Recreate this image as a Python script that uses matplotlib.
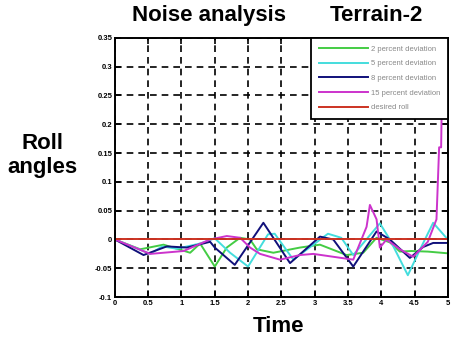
import matplotlib
matplotlib.use("Agg")
import matplotlib.pyplot as plt

plt.rcParams['font.family'] = ['Liberation Sans', 'DejaVu Sans']

# Data (time, roll angle)
t_2pct = [0, 0.38, 0.73, 1.13, 1.28, 1.5, 1.68, 1.88, 2.03, 2.13, 2.38, 2.78, 3.08, 3.48,
          3.73, 3.93, 4.13, 4.28, 4.45, 4.7, 5.0]
v_2pct = [0, -0.017, -0.009, -0.023, -0.007, -0.047, -0.014, 0.003, 0.0, -0.017, -0.023,
          -0.014, -0.009, -0.027, -0.023, 0.003, -0.005, -0.021, -0.02, -0.021, -0.024]

t_5pct = [0, 0.53, 0.71, 0.93, 1.28, 1.5, 1.73, 2.0, 2.3, 2.4, 2.68, 3.2, 3.4, 3.58,
          3.98, 4.13, 4.4, 4.58, 4.78, 5.0]
v_5pct = [0, -0.025, -0.012, -0.016, -0.007, 0.002, -0.023, -0.047, 0.009, 0.01, -0.035,
          0.01, 0.003, -0.027, 0.028, 0.0, -0.062, -0.018, 0.029, 0.0]

t_8pct = [0, 0.43, 0.78, 1.08, 1.43, 1.5, 1.8, 2.23, 2.63, 3.08, 3.28, 3.58, 3.93, 4.13,
          4.43, 4.63, 4.78, 5.0]
v_8pct = [0, -0.027, -0.012, -0.014, -0.004, -0.014, -0.044, 0.029, -0.041, 0.005, 0.0,
          -0.047, 0.014, 0.0, -0.032, -0.013, -0.006, -0.006]

t_15pct = [0, 0.53, 1.03, 1.43, 1.68, 1.88, 2.03, 2.18, 2.48, 2.78, 2.98, 3.28, 3.58,
           3.78, 3.83, 3.93, 3.98, 4.08, 4.28, 4.48, 4.7, 4.83, 4.87, 4.9, 4.93]
v_15pct = [0, -0.025, -0.02, 0.0, 0.006, 0.003, -0.014, -0.025, -0.035, -0.027, -0.025,
           -0.03, -0.035, 0.022, 0.06, 0.035, -0.014, 0.0, -0.017, -0.03, -0.004, 0.035,
           0.16, 0.16, 0.4]

t_desired = [0, 5]
v_desired = [0, 0]

labels = ["2 percent deviation", "5 percent deviation", "8 percent deviation",
          "15 percent deviation", "desired roll"]
colors = ["#44cc44", "#44dddd", "#10107a", "#cc33cc", "#cc3322"]

x_ticks = [0, 0.5, 1, 1.5, 2, 2.5, 3, 3.5, 4, 4.5, 5]
y_ticks = [-0.1, -0.05, 0, 0.05, 0.1, 0.15, 0.2, 0.25, 0.3, 0.35]

fig = plt.figure(figsize=(4.56, 3.38), dpi=100)
ax = fig.add_axes([0.252, 0.121, 0.730, 0.767])

series = [(t_2pct, v_2pct), (t_5pct, v_5pct), (t_8pct, v_8pct),
          (t_15pct, v_15pct), (t_desired, v_desired)]
for (t, v), lab, c in zip(series, labels, colors):
    ax.plot(t, v, color=c, lw=1.4, label=lab)

ax.set_xlim(0, 5)
ax.set_ylim(-0.1, 0.35)
ax.set_xticks(x_ticks)
ax.set_yticks(y_ticks)
ax.set_xticklabels([f"{x:g}" for x in x_ticks])
ax.set_yticklabels([f"{y:g}" for y in y_ticks])
ax.tick_params(direction="in", length=4, width=1.2, top=True, right=True,
               labelsize=5.5, pad=2)
for lab in ax.get_xticklabels() + ax.get_yticklabels():
    lab.set_fontweight("bold")
ax.grid(True, color="black", lw=1.2, linestyle=(0, (4, 3)))
for s in ax.spines.values():
    s.set_linewidth(1.4)

leg = ax.legend(loc="upper right", fontsize=5.5, frameon=True, fancybox=False,
                framealpha=1, facecolor="white", edgecolor="black",
                borderpad=1.0, labelspacing=0.95, handlelength=6.5,
                handletextpad=0.3, borderaxespad=0.0)
leg.get_frame().set_linewidth(1.3)
for txt in leg.get_texts():
    txt.set_color("#888888")

fig.text(0.458, 0.953, "Noise analysis", ha="center", va="center",
         fontsize=16, fontweight="bold")
fig.text(0.825, 0.953, "Terrain-2", ha="center", va="center",
         fontsize=16, fontweight="bold")
fig.text(0.094, 0.54, "Roll\nangles", ha="center", va="center",
         fontsize=16, fontweight="bold", linespacing=1.2)
fig.text(0.61, 0.035, "Time", ha="center", va="center",
         fontsize=16, fontweight="bold")

fig.savefig("out.png", dpi=100)
